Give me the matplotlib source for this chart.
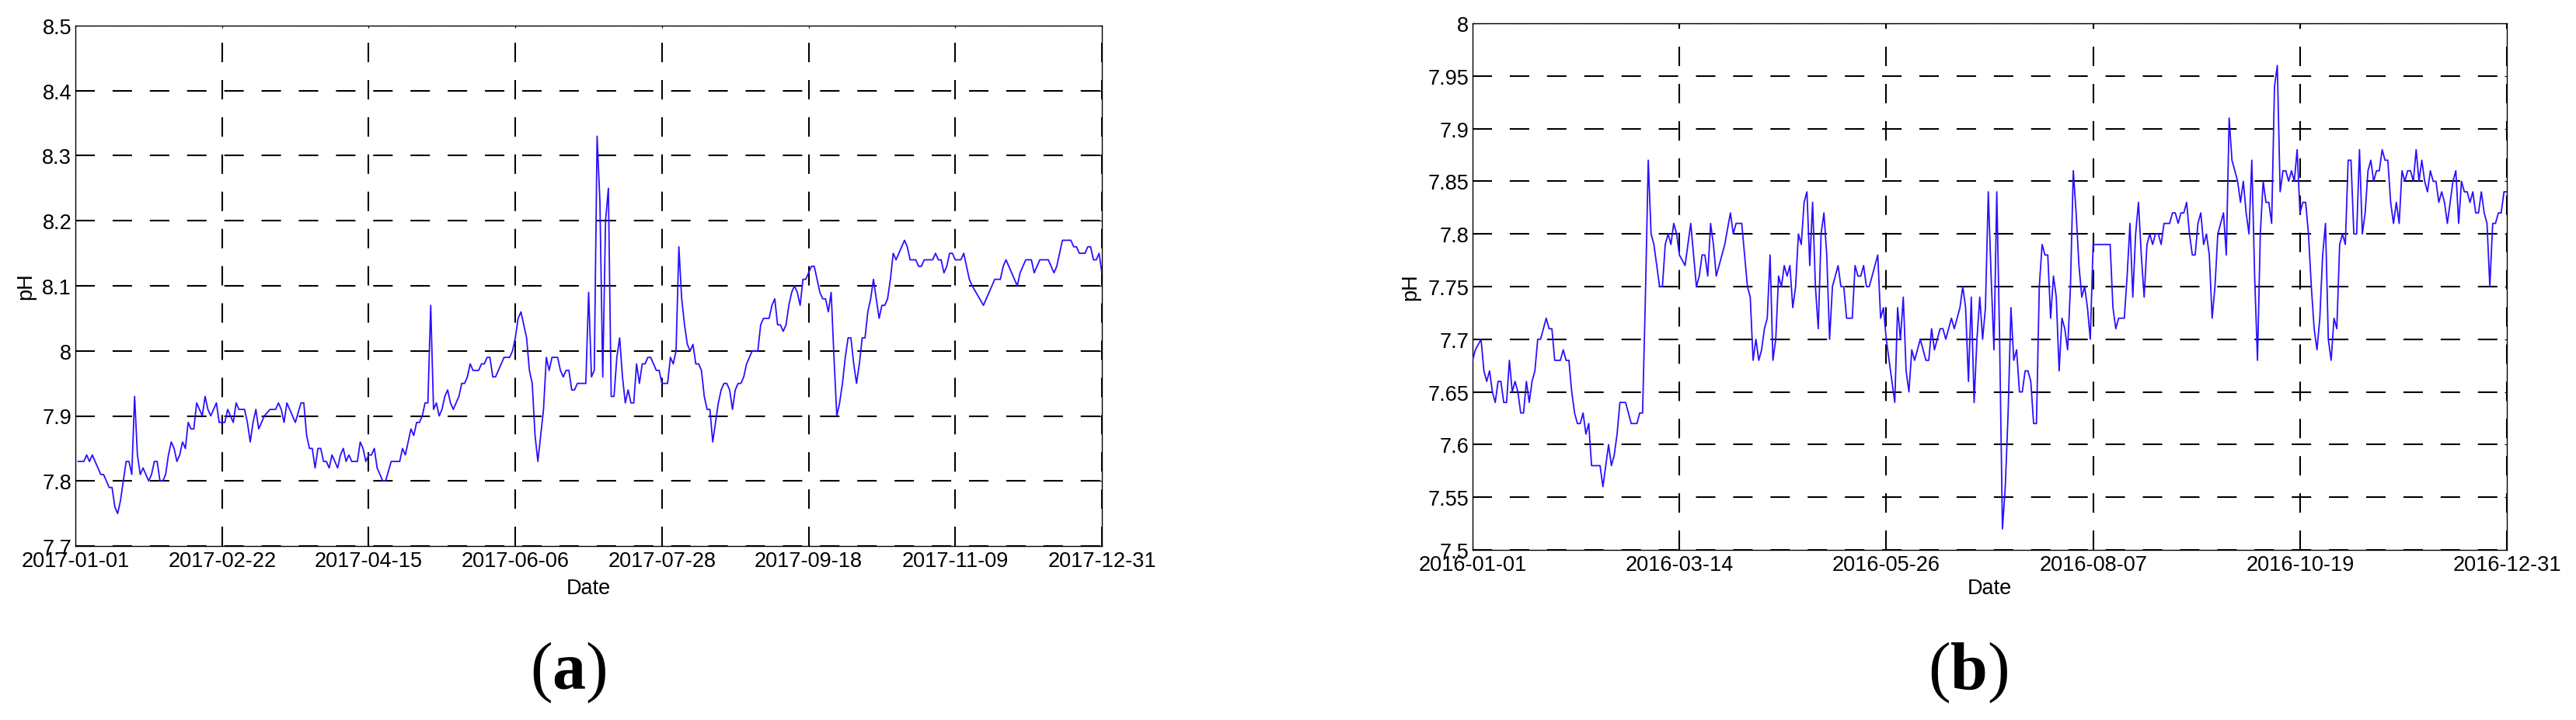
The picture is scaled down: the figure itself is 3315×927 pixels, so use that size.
import matplotlib
matplotlib.use("Agg")
import matplotlib.pyplot as plt
import matplotlib.dates as mdates
import pandas as pd

# ---------------- data (day offset from Jan 1, pH) ----------------
days_2017 = [1, 3, 4, 5, 6, 7, 9, 10, 12, 13, 14, 15, 16, 17, 18, 19, 20, 21, 22, 23, 24, 26, 27, 28, 29, 30,
             31, 32, 33, 34, 35, 36, 37, 38, 39, 40, 41, 42, 43, 44, 45, 46, 47, 48, 50, 51, 53, 54, 56, 57, 58,
             60, 61, 62, 63, 64, 65, 67, 69, 71, 72, 73, 74, 75, 76, 78, 80, 81, 82, 83, 84, 85, 86, 87, 88, 89,
             90, 91, 92, 93, 94, 95, 96, 97, 98, 100, 101, 102, 103, 104, 105, 106, 107, 108, 109, 110, 112, 115,
             116, 117, 119, 120, 121, 122, 123, 124, 125, 126, 127, 128, 129, 130, 131, 132, 133, 134, 135, 136,
             137, 138, 139, 140, 141, 143, 144, 145, 146, 147, 148, 149, 150, 151, 152, 154, 155, 156, 157, 158,
             159, 160, 161, 162, 163, 164, 165, 166, 167, 168, 169, 171, 172, 173, 174, 175, 176, 177, 178, 181,
             182, 183, 184, 185, 186, 187, 188, 189, 190, 191, 192, 193, 194, 195, 196, 197, 198, 199, 200, 201,
             202, 203, 204, 205, 206, 207, 208, 210, 211, 212, 213, 214, 215, 216, 217, 218, 219, 220, 221, 222,
             223, 224, 225, 226, 227, 228, 229, 230, 231, 232, 233, 234, 235, 236, 237, 238, 239, 240, 242, 243,
             244, 246, 247, 248, 249, 250, 251, 252, 253, 254, 255, 256, 257, 258, 259, 260, 261, 262, 263, 264,
             265, 266, 267, 268, 269, 270, 271, 272, 273, 274, 275, 276, 277, 278, 279, 280, 281, 282, 283, 284,
             285, 286, 287, 288, 289, 290, 291, 292, 293, 294, 295, 296, 298, 299, 300, 301, 304, 305, 306, 307,
             308, 309, 310, 311, 312, 314, 315, 316, 317, 318, 322, 324, 326, 328, 329, 330, 332, 334, 335, 337,
             339, 340, 342, 345, 347, 348, 349, 350, 353, 354, 355, 356, 358, 359, 360, 361, 362, 363, 364]
ph_2017 = [7.83, 7.83, 7.84, 7.83, 7.84, 7.83, 7.81, 7.81, 7.79, 7.79, 7.76, 7.75, 7.77, 7.80, 7.83, 7.83, 7.81,
           7.93, 7.84, 7.81, 7.82, 7.80, 7.81, 7.83, 7.83, 7.80, 7.80, 7.81, 7.84, 7.86, 7.85, 7.83, 7.84, 7.86,
           7.85, 7.89, 7.88, 7.88, 7.92, 7.91, 7.90, 7.93, 7.91, 7.90, 7.92, 7.89, 7.89, 7.91, 7.89, 7.92, 7.91,
           7.91, 7.89, 7.86, 7.89, 7.91, 7.88, 7.90, 7.91, 7.91, 7.92, 7.91, 7.89, 7.92, 7.91, 7.89, 7.92, 7.92,
           7.87, 7.85, 7.85, 7.82, 7.85, 7.85, 7.83, 7.83, 7.82, 7.84, 7.83, 7.82, 7.84, 7.85, 7.83, 7.84, 7.83,
           7.83, 7.86, 7.85, 7.83, 7.84, 7.84, 7.85, 7.82, 7.81, 7.80, 7.80, 7.83, 7.83, 7.85, 7.84, 7.88, 7.87,
           7.89, 7.89, 7.90, 7.92, 7.92, 8.07, 7.91, 7.92, 7.90, 7.91, 7.93, 7.94, 7.92, 7.91, 7.92, 7.93, 7.95,
           7.95, 7.96, 7.98, 7.97, 7.97, 7.98, 7.98, 7.99, 7.99, 7.96, 7.96, 7.97, 7.98, 7.99, 7.99, 8.00, 8.02,
           8.05, 8.06, 8.04, 8.02, 7.97, 7.95, 7.87, 7.83, 7.87, 7.91, 7.99, 7.97, 7.99, 7.99, 7.97, 7.96, 7.97,
           7.97, 7.94, 7.94, 7.95, 7.95, 8.09, 7.96, 7.97, 8.33, 8.23, 7.96, 8.20, 8.25, 7.93, 7.93, 7.99, 8.02,
           7.96, 7.92, 7.94, 7.92, 7.92, 7.98, 7.95, 7.98, 7.98, 7.99, 7.99, 7.98, 7.97, 7.97, 7.95, 7.95, 7.99,
           7.98, 8.00, 8.16, 8.08, 8.04, 8.01, 8.00, 8.01, 7.98, 7.98, 7.97, 7.93, 7.91, 7.91, 7.86, 7.89, 7.92,
           7.94, 7.95, 7.95, 7.94, 7.91, 7.94, 7.95, 7.95, 7.96, 7.98, 7.99, 8.00, 8.00, 8.04, 8.05, 8.05, 8.07,
           8.08, 8.04, 8.04, 8.03, 8.04, 8.07, 8.09, 8.10, 8.09, 8.07, 8.11, 8.11, 8.12, 8.13, 8.13, 8.11, 8.09,
           8.08, 8.08, 8.06, 8.09, 7.99, 7.90, 7.92, 7.95, 7.99, 8.02, 8.02, 7.98, 7.95, 7.98, 8.02, 8.02, 8.06,
           8.08, 8.11, 8.08, 8.05, 8.07, 8.07, 8.08, 8.11, 8.15, 8.14, 8.15, 8.16, 8.17, 8.16, 8.14, 8.14, 8.13,
           8.13, 8.14, 8.14, 8.15, 8.14, 8.14, 8.12, 8.13, 8.15, 8.15, 8.14, 8.14, 8.15, 8.13, 8.11, 8.10, 8.07,
           8.09, 8.11, 8.11, 8.13, 8.14, 8.12, 8.10, 8.12, 8.14, 8.14, 8.12, 8.14, 8.14, 8.12, 8.13, 8.15, 8.17,
           8.17, 8.16, 8.16, 8.15, 8.15, 8.16, 8.16, 8.14, 8.14, 8.15, 8.12]

days_2016 = [0, 1, 3, 4, 5, 6, 7, 8, 9, 10, 11, 12, 13, 14, 15, 16, 17, 18, 19, 20, 21, 22, 23, 24, 25, 26, 27,
             28, 29, 31, 32, 33, 34, 35, 36, 37, 38, 39, 40, 41, 42, 45, 46, 47, 48, 49, 50, 51, 52, 54, 55, 56,
             58, 59, 60, 61, 62, 63, 64, 65, 66, 67, 68, 69, 70, 71, 72, 73, 75, 76, 77, 78, 79, 80, 81, 82, 83,
             84, 85, 86, 87, 88, 89, 91, 92, 93, 95, 96, 97, 98, 99, 100, 101, 102, 103, 104, 105, 106, 107, 108,
             109, 110, 111, 112, 113, 114, 115, 116, 117, 118, 119, 120, 121, 122, 123, 124, 125, 126, 127, 129,
             130, 131, 132, 134, 135, 136, 137, 138, 139, 140, 141, 143, 144, 145, 146, 147, 148, 149, 150, 151,
             152, 153, 154, 155, 156, 158, 160, 161, 162, 163, 165, 166, 167, 169, 170, 172, 173, 174, 175, 176,
             177, 178, 179, 180, 181, 182, 183, 184, 185, 186, 187, 188, 189, 190, 191, 192, 193, 194, 195, 196,
             197, 198, 199, 200, 201, 202, 203, 204, 205, 206, 207, 208, 209, 210, 211, 212, 213, 214, 215, 216,
             217, 218, 219, 225, 226, 227, 228, 230, 231, 232, 233, 234, 235, 236, 237, 238, 239, 240, 241, 242,
             243, 244, 246, 247, 248, 249, 250, 251, 252, 253, 254, 255, 256, 257, 258, 259, 260, 261, 262, 263,
             264, 265, 266, 267, 268, 269, 270, 271, 272, 273, 274, 275, 276, 277, 278, 279, 280, 281, 282, 283,
             284, 285, 286, 287, 288, 289, 290, 291, 292, 293, 294, 295, 296, 297, 298, 299, 300, 301, 302, 303,
             304, 305, 306, 307, 308, 309, 310, 311, 312, 313, 314, 315, 316, 317, 318, 319, 320, 321, 322, 323,
             324, 325, 326, 327, 328, 329, 330, 331, 332, 333, 334, 335, 336, 337, 338, 339, 340, 341, 342, 343,
             344, 345, 346, 347, 348, 349, 350, 351, 352, 353, 354, 355, 356, 357, 358, 359, 360, 361, 362, 363,
             364, 365]
ph_2016 = [7.68, 7.69, 7.70, 7.67, 7.66, 7.67, 7.65, 7.64, 7.66, 7.66, 7.64, 7.64, 7.68, 7.65, 7.66, 7.65, 7.63,
           7.63, 7.66, 7.64, 7.66, 7.67, 7.70, 7.70, 7.71, 7.72, 7.71, 7.71, 7.68, 7.68, 7.69, 7.68, 7.68, 7.65,
           7.63, 7.62, 7.62, 7.63, 7.61, 7.62, 7.58, 7.58, 7.56, 7.58, 7.60, 7.58, 7.59, 7.61, 7.64, 7.64, 7.63,
           7.62, 7.62, 7.63, 7.63, 7.74, 7.87, 7.80, 7.79, 7.77, 7.75, 7.75, 7.79, 7.80, 7.79, 7.81, 7.80, 7.78,
           7.77, 7.79, 7.81, 7.78, 7.75, 7.76, 7.78, 7.78, 7.76, 7.81, 7.79, 7.76, 7.77, 7.78, 7.79, 7.82, 7.80,
           7.81, 7.81, 7.78, 7.75, 7.74, 7.68, 7.70, 7.68, 7.69, 7.71, 7.72, 7.78, 7.68, 7.70, 7.76, 7.75, 7.77,
           7.76, 7.77, 7.73, 7.75, 7.80, 7.79, 7.83, 7.84, 7.77, 7.83, 7.75, 7.71, 7.80, 7.82, 7.78, 7.70, 7.75,
           7.77, 7.75, 7.75, 7.72, 7.72, 7.77, 7.76, 7.76, 7.77, 7.75, 7.75, 7.76, 7.78, 7.72, 7.73, 7.70, 7.68,
           7.66, 7.64, 7.73, 7.70, 7.74, 7.67, 7.65, 7.69, 7.68, 7.70, 7.68, 7.68, 7.71, 7.69, 7.71, 7.71, 7.70,
           7.72, 7.71, 7.73, 7.75, 7.73, 7.66, 7.74, 7.64, 7.70, 7.74, 7.70, 7.73, 7.84, 7.76, 7.69, 7.84, 7.70,
           7.52, 7.56, 7.63, 7.73, 7.68, 7.69, 7.65, 7.65, 7.67, 7.67, 7.66, 7.62, 7.62, 7.75, 7.79, 7.78, 7.78,
           7.72, 7.76, 7.74, 7.67, 7.72, 7.71, 7.69, 7.75, 7.86, 7.82, 7.77, 7.74, 7.75, 7.73, 7.70, 7.79, 7.79,
           7.73, 7.71, 7.72, 7.72, 7.76, 7.81, 7.74, 7.80, 7.83, 7.78, 7.74, 7.79, 7.80, 7.79, 7.80, 7.80, 7.79,
           7.81, 7.81, 7.82, 7.82, 7.81, 7.82, 7.82, 7.83, 7.80, 7.78, 7.78, 7.81, 7.82, 7.79, 7.80, 7.78, 7.72,
           7.75, 7.80, 7.81, 7.82, 7.78, 7.91, 7.87, 7.86, 7.85, 7.83, 7.85, 7.82, 7.80, 7.87, 7.76, 7.68, 7.80,
           7.85, 7.83, 7.83, 7.81, 7.94, 7.96, 7.84, 7.86, 7.86, 7.85, 7.86, 7.85, 7.88, 7.82, 7.83, 7.83, 7.80,
           7.75, 7.71, 7.69, 7.72, 7.78, 7.81, 7.70, 7.68, 7.72, 7.71, 7.79, 7.80, 7.79, 7.87, 7.87, 7.80, 7.80,
           7.88, 7.80, 7.82, 7.86, 7.87, 7.85, 7.86, 7.86, 7.88, 7.87, 7.87, 7.83, 7.81, 7.83, 7.81, 7.86, 7.85,
           7.86, 7.86, 7.85, 7.88, 7.85, 7.87, 7.85, 7.84, 7.86, 7.85, 7.85, 7.83, 7.84, 7.83, 7.81, 7.83, 7.85,
           7.86, 7.81, 7.85, 7.84, 7.84, 7.83, 7.84, 7.82, 7.82, 7.84, 7.82, 7.81, 7.75, 7.81, 7.81, 7.82, 7.82,
           7.84, 7.84]

xticks_2017 = ["2017-01-01", "2017-02-22", "2017-04-15", "2017-06-06", "2017-07-28",
               "2017-09-18", "2017-11-09", "2017-12-31"]
xticks_2016 = ["2016-01-01", "2016-03-14", "2016-05-26", "2016-08-07", "2016-10-19", "2016-12-31"]
yticks_2017 = [7.7, 7.8, 7.9, 8.0, 8.1, 8.2, 8.3, 8.4, 8.5]
yticks_2016 = [7.5, 7.55, 7.6, 7.65, 7.7, 7.75, 7.8, 7.85, 7.9, 7.95, 8.0]
panel_labels = ["a", "b"]
x_label = "Date"
y_label = "pH"

# ---------------- style ----------------
plt.rcParams["font.family"] = ["Liberation Sans", "DejaVu Sans"]
plt.rcParams["lines.scale_dashes"] = False
plt.rcParams["mathtext.fontset"] = "custom"
plt.rcParams["mathtext.bf"] = "Liberation Serif:bold"
plt.rcParams["mathtext.rm"] = "Liberation Serif"

W, H = 3315, 928
fig = plt.figure(figsize=(W / 100, H / 100), dpi=100)


def px_rect(l, t, r, b):
    return [l / W, 1 - b / H, (r - l) / W, (b - t) / H]


LINE_COLOR = "#2a10ff"
GRID_DASH = (0, (18, 16.5))


def make_panel(rect, start, days, vals, xticks, yticks, ylabel_x, xlabel_y):
    ax = fig.add_axes(rect)
    dates = pd.Timestamp(start) + pd.to_timedelta(days, unit="D")
    ax.plot(dates, vals, color=LINE_COLOR, linewidth=1.3, zorder=3)
    tick_dates = pd.to_datetime(xticks)
    ax.set_xlim(tick_dates[0], tick_dates[-1])
    ax.set_xticks(tick_dates)
    ax.xaxis.set_major_formatter(mdates.DateFormatter("%Y-%m-%d"))
    ax.set_ylim(yticks[0], yticks[-1])
    ax.set_yticks(yticks)
    ax.set_yticklabels(["%g" % v for v in yticks])
    ax.grid(True, color="black", linestyle=GRID_DASH, linewidth=1.5, zorder=1)
    ax.set_axisbelow(True)
    ax.tick_params(direction="in", length=2.5, width=0.8, top=True, right=True,
                   labelsize=19.5, colors="black")
    ax.tick_params(axis="x", pad=4)
    ax.tick_params(axis="y", pad=3.5)
    for sp in ax.spines.values():
        sp.set_linewidth(1.0)
        sp.set_color("black")
    ax.set_xlabel(x_label, fontsize=19.5, va="center")
    ax.xaxis.set_label_coords(0.5, xlabel_y)
    ax.set_ylabel(y_label, fontsize=19.5, va="center")
    ax.yaxis.set_label_coords(ylabel_x, 0.5)
    return ax


ax1 = make_panel(px_rect(97, 34, 1418, 704), "2017-01-01", days_2017, ph_2017,
                 xticks_2017, yticks_2017, (33 - 97) / (1418 - 97), (704 - 758) / (704 - 34))
ax2 = make_panel(px_rect(1895, 31, 3226, 709), "2016-01-01", days_2016, ph_2016,
                 xticks_2016, yticks_2016, (1815 - 1895) / (3226 - 1895), (709 - 758) / (709 - 31))

for lab, xc in zip(panel_labels, [731, 2533]):
    fig.text(xc / W, 1 - 866 / H, "($\\mathbf{%s}$)" % lab, ha="center", va="center",
             fontsize=62, family="Liberation Serif")

fig.savefig("out.png", dpi=100, facecolor="white")
